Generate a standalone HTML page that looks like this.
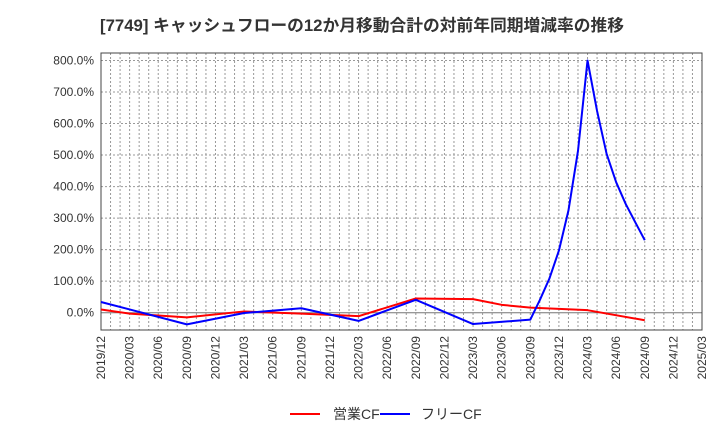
<!DOCTYPE html>
<html><head><meta charset="utf-8"><style>
body{margin:0;background:#fff;font-family:"Liberation Sans","Noto Sans CJK JP",sans-serif;}
svg text{font-family:"Liberation Sans","Noto Sans CJK JP",sans-serif;}
</style></head><body>
<svg id="c" width="720" height="440" xmlns="http://www.w3.org/2000/svg">
<text x="100" y="31" font-size="16.5" font-weight="bold" fill="#333" textLength="524" lengthAdjust="spacingAndGlyphs">[7749]  キャッシュフローの12か月移動合計の対前年同期増減率の推移</text>
<g id="grid"></g><g id="axes"></g><g id="series"></g>
<g>
<line x1="290" y1="414" x2="320" y2="414" stroke="#f00" stroke-width="2"/>
<text x="333" y="419" font-size="14" fill="#333">営業CF</text>
<line x1="380" y1="414" x2="410" y2="414" stroke="#00f" stroke-width="2"/>
<text x="421" y="419" font-size="14" fill="#333">フリーCF</text>
</g>
</svg>
<script>
const xTickLabels=["2019/12","2020/03","2020/06","2020/09","2020/12","2021/03","2021/06","2021/09","2021/12","2022/03","2022/06","2022/09","2022/12","2023/03","2023/06","2023/09","2023/12","2024/03","2024/06","2024/09","2024/12","2025/03"];
const yTicks=[0,100,200,300,400,500,600,700,800];
const opMonths=[0,3,9,15,21,27,33,39,42,45,51,57];
const opValues=[10,-3,-15,4,-3,-11,45,43,25,16,8,-24];
const fcfMonths=[0,9,15,21,27,33,39,45,46,47,48,49,50,51,52,53,54,55,56,57];
const fcfValues=[34,-37,-1,14,-26,41,-36,-22,40,108,197,324,513,800,640,504,414,345,287,230];
const NS="http://www.w3.org/2000/svg";
const L=101,R=702,T=53,B=330;
function xs(m){return L+m*(R-L)/63;}
function ys(v){return 312.7-v*0.3153;}
function mk(t,a,p){const e=document.createElementNS(NS,t);for(const k in a)e.setAttribute(k,a[k]);p.appendChild(e);return e;}
const g=document.getElementById('grid'),ax=document.getElementById('axes'),s=document.getElementById('series');
for(let m=1;m<63;m++){const l=mk('line',{x1:xs(m),x2:xs(m),y1:T,y2:B,stroke:'#999','stroke-width':1,'stroke-dasharray':'2,2'},g);

}
yTicks.forEach(v=>{const l=mk('line',{x1:L,x2:R,y1:ys(v),y2:ys(v),stroke:v===0?'#777':'#999','stroke-width':1,'stroke-dasharray':v===0?'':'2,2'},g);


const t=mk('text',{x:L-7,y:ys(v)+4,'font-size':12,'text-anchor':'end',fill:'#333'},ax);t.textContent=v.toFixed(1)+'%';

});
const fr=mk('rect',{x:L,y:T,width:R-L,height:B-T,fill:'none',stroke:'#444','stroke-width':1},ax);


xTickLabels.forEach((lb,i)=>{const x=xs(i*3);const t=mk('text',{x:0,y:0,'font-size':12,'text-anchor':'end',fill:'#333',transform:`translate(${x+4},${B+6}) rotate(-90)`},ax);t.textContent=lb;

});
function line(ms,vs,c,n){const p=mk('polyline',{points:ms.map((m,i)=>xs(m)+','+ys(vs[i])).join(' '),fill:'none',stroke:c,'stroke-width':2,'stroke-linejoin':'round'},s);

}
line(opMonths,opValues,'#f00','operating-cf-line');
line(fcfMonths,fcfValues,'#00f','free-cf-line');
</script>
</body></html>
